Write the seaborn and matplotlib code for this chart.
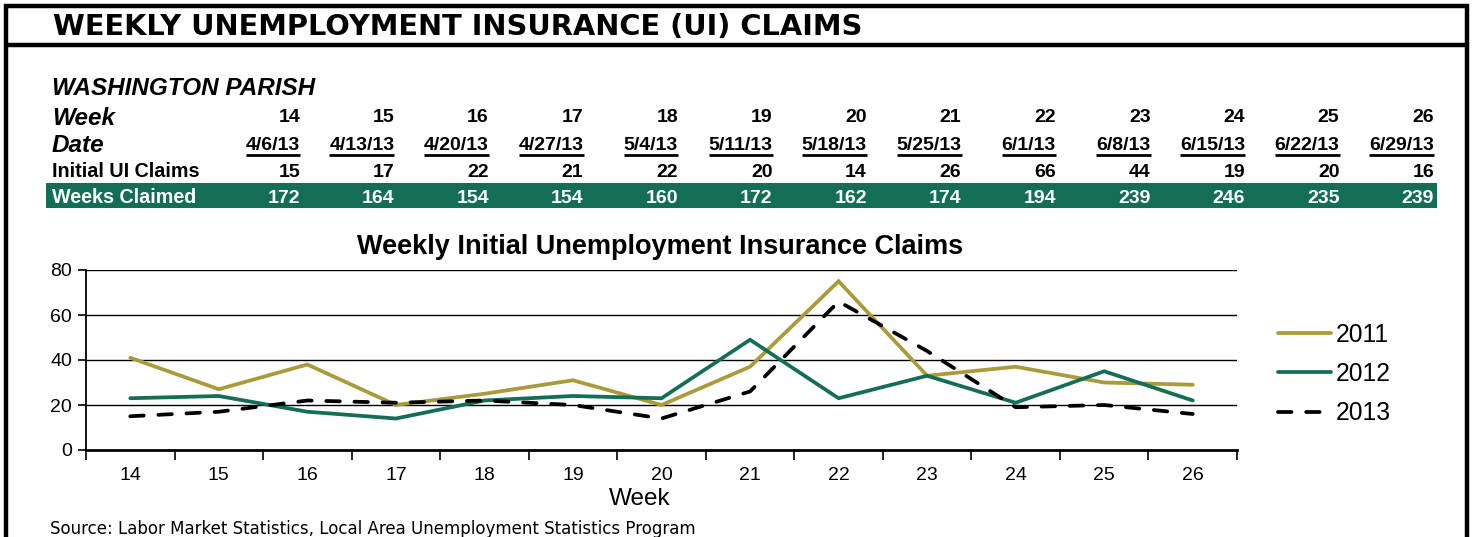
import matplotlib
matplotlib.use("Agg")
import matplotlib.pyplot as plt
import seaborn as sns
import pandas as pd
from matplotlib.lines import Line2D
from matplotlib.patches import Rectangle

# ---------------- data ----------------
weeks = [14, 15, 16, 17, 18, 19, 20, 21, 22, 23, 24, 25, 26]
dates = ["4/6/13", "4/13/13", "4/20/13", "4/27/13", "5/4/13", "5/11/13", "5/18/13",
         "5/25/13", "6/1/13", "6/8/13", "6/15/13", "6/22/13", "6/29/13"]
initial_claims = [15, 17, 22, 21, 22, 20, 14, 26, 66, 44, 19, 20, 16]
weeks_claimed = [172, 164, 154, 154, 160, 172, 162, 174, 194, 239, 246, 235, 239]
claims_2011 = [41, 27, 38, 20, 25, 31, 20, 37, 75, 33, 37, 30, 29]
claims_2012 = [23, 24, 17, 14, 22, 24, 23, 49, 23, 33, 21, 35, 22]
claims_2013 = initial_claims
y_ticks = [0, 20, 40, 60, 80]

GOLD = "#A99A3A"
GREEN = "#146D55"

W, H = 1473, 537
fig = plt.figure(figsize=(W / 100, H / 100), dpi=100)

def fx(px):
    return px / W

def fy(py):
    return 1 - py / H

# ---------------- frame ----------------
for (x0, y0, x1, y1) in [(4, 6, 1469, 6), (4, 45, 1469, 45)]:
    fig.add_artist(Line2D([fx(x0), fx(x1)], [fy(y0), fy(y1)], color="black", lw=3.2,
                          transform=fig.transFigure, solid_capstyle="butt"))
for x in [6, 1467]:
    fig.add_artist(Line2D([fx(x), fx(x)], [fy(4), fy(540)], color="black", lw=3.2,
                          transform=fig.transFigure, solid_capstyle="butt"))

fig.text(fx(53), fy(35), "WEEKLY UNEMPLOYMENT INSURANCE (UI) CLAIMS", fontsize=20.8,
         fontweight="bold", family="DejaVu Sans", va="baseline", ha="left")

# ---------------- table ----------------
AR = "Liberation Sans"
fig.text(fx(52), fy(95), "WASHINGTON PARISH", fontsize=17.5, fontweight="bold", style="italic",
         family=AR, va="baseline")
fig.text(fx(52), fy(125), "Week", fontsize=17.5, fontweight="bold", style="italic", family=AR, va="baseline")
fig.text(fx(52), fy(152), "Date", fontsize=17.5, fontweight="bold", style="italic", family=AR, va="baseline")
fig.text(fx(52), fy(177), "Initial UI Claims", fontsize=14.2, fontweight="bold", family=AR, va="baseline")
fig.add_artist(Rectangle((fx(46), fy(208)), fx(1437) - fx(46), fy(183) - fy(208),
                         transform=fig.transFigure, color=GREEN, lw=0))
fig.text(fx(52), fy(203), "Weeks Claimed", fontsize=14.2, fontweight="bold", family=AR,
         va="baseline", color="white")

date_texts = []
for i in range(len(weeks)):
    xr = fx(300 + 94.5 * i)
    fig.text(xr, fy(122), str(weeks[i]), fontsize=14, fontweight="bold", family=AR, ha="right", va="baseline")
    t = fig.text(xr, fy(150), dates[i], fontsize=14, fontweight="bold", family=AR, ha="right", va="baseline")
    date_texts.append(t)
    fig.text(xr, fy(177), str(initial_claims[i]), fontsize=14, fontweight="bold", family=AR, ha="right", va="baseline")
    fig.text(xr, fy(203), str(weeks_claimed[i]), fontsize=14, fontweight="bold", family=AR, ha="right",
             va="baseline", color="white")

fig.canvas.draw()
rend = fig.canvas.get_renderer()
for t in date_texts:
    bb = t.get_window_extent(rend)
    fig.add_artist(Line2D([bb.x0 / W, bb.x1 / W], [fy(154.5), fy(154.5)], color="black", lw=2.0,
                          transform=fig.transFigure, solid_capstyle="butt"))

# ---------------- chart ----------------
ax = fig.add_axes([fx(86), fy(450), fx(1237) - fx(86), fy(270) - fy(450)])
df = pd.DataFrame({"week": weeks, "2011": claims_2011, "2012": claims_2012, "2013": claims_2013})
sns.lineplot(data=df, x="week", y="2011", ax=ax, color=GOLD, lw=2.7, label="2011")
sns.lineplot(data=df, x="week", y="2012", ax=ax, color=GREEN, lw=2.7, label="2012")
sns.lineplot(data=df, x="week", y="2013", ax=ax, color="black", lw=2.7, label="2013")
l13 = ax.get_lines()[2]
l13.set_dashes((3.6, 3.9))
l13.set_dash_capstyle("round")
for ln in ax.get_lines():
    ln.set_solid_capstyle("round")
    ln.set_solid_joinstyle("miter")

ax.set_xlim(13.5, 26.5)
ax.set_ylim(0, 80)
ax.set_yticks(y_ticks)
ax.set_xticks(weeks)
ax.set_xticklabels([str(w) for w in weeks])
ax.set_xticks([w - 0.5 for w in weeks] + [26.5], minor=True)
ax.tick_params(axis="x", which="major", length=0, pad=12, labelsize=14, labelfontfamily=AR)
ax.tick_params(axis="x", which="minor", length=7, width=1.2, direction="out")
ax.tick_params(axis="y", which="major", length=6, width=1.2, direction="out", pad=4,
               labelsize=14, labelfontfamily=AR)
for yv in y_ticks[1:]:
    ax.axhline(yv, color="black", lw=1.0, zorder=0)
for s in ["top", "right"]:
    ax.spines[s].set_visible(False)
ax.spines["left"].set_linewidth(1.3)
ax.spines["bottom"].set_linewidth(2.0)
ax.set_xlabel("")
ax.set_ylabel("")
ax.set_facecolor("none")

fig.text(fx(660), fy(254), "Weekly Initial Unemployment Insurance Claims", fontsize=19.5, fontweight="bold",
         family=AR, ha="center", va="baseline")
fig.text(fx(640), fy(505), "Week", fontsize=17.5, family=AR, ha="center", va="baseline")
fig.text(fx(50), fy(534), "Source: Labor Market Statistics, Local Area Unemployment Statistics Program",
         fontsize=12, family="DejaVu Sans", ha="left", va="baseline")

h, l = ax.get_legend_handles_labels()
ax.legend(h, l, loc="center left", bbox_to_anchor=(fx(1278), fy(374)), bbox_transform=fig.transFigure,
          frameon=False, prop={"family": AR, "size": 17.7}, handlelength=2.15,
          handletextpad=0.2, labelspacing=0.62, borderpad=0, borderaxespad=0)

fig.savefig("out.png", dpi=100)
